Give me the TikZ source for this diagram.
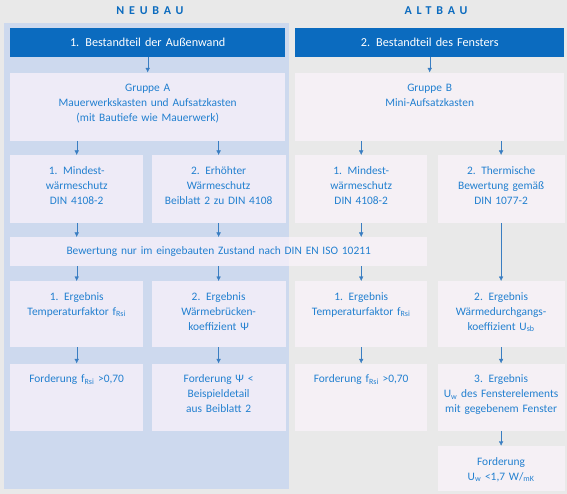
\documentclass[tikz,border=0pt]{standalone}
\usepackage{fontspec}
\setmainfont{Carlito}
\usepackage{tikz}
\usetikzlibrary{arrows.meta, positioning}

\definecolor{bggray}{HTML}{E9E9E9}
\definecolor{panelblue}{HTML}{CDD9EE}
\definecolor{headblue}{HTML}{0B6BBF}
\definecolor{textblue}{HTML}{2280D0}
\definecolor{arrowblue}{HTML}{3A7EC2}
\definecolor{boxfill}{HTML}{FBF3FB}

\begin{document}
\begin{tikzpicture}[
    x=1pt, y=-1pt,
    % column titles
    title/.style={text=headblue, inner sep=0pt,
                  font=\fontsize{12}{13}\selectfont\bfseries\addfontfeatures{LetterSpace=40}},
    % dark blue header bars
    headbox/.style={rectangle, fill=headblue, text=white, inner sep=0pt,
                    text width=#1, minimum height=29pt, align=center,
                    font=\fontsize{12.2}{14}\selectfont},
    % light boxes, text set from the top
    tbox/.style 2 args={rectangle, fill=boxfill, fill opacity=0.72, text opacity=1,
                        text=textblue, inner xsep=0pt, inner ysep=0pt,
                        text width=#1, text height=19pt, text depth=#2, align=center,
                        font=\fontsize{11.4}{15}\selectfont},
    % light box, text centred
    wbox/.style={rectangle, fill=boxfill, fill opacity=0.72, text opacity=1,
                 text=textblue, inner sep=0pt, text width=#1,
                 minimum height=29pt, align=center,
                 font=\fontsize{11.4}{15}\selectfont},
    arrow/.style={-{Latex[length=4.5pt, width=4.5pt]}, thin, arrowblue}
]

\fill[bggray] (0,0) rectangle (567,494);
\useasboundingbox (0,0) rectangle (567,494);
\fill[panelblue] (4,23) rectangle (289,489);

%-------- TITLES --------
\node[title] (tN) at (150,11) {NEUBAU};
\node[title] (tA) at (436,11) {ALTBAU};

%-------- NEUBAU --------
\node[headbox=275pt, anchor=north west] (hN) at (10,28) {1. Bestandteil der Außenwand};
\node[tbox={275pt}{49pt}, below=15pt of hN] (gA)
    {Gruppe A\\Mauerwerkskasten und Aufsatzkasten\\(mit Bautiefe wie Mauerwerk)};
\node[tbox={133pt}{49pt}, anchor=north west] (nMin) at (10,155)
    {1. Mindest-\\wärmeschutz\\DIN 4108-2};
\node[tbox={134pt}{49pt}, right=8pt of nMin] (nErh)
    {2. Erhöhter\\Wärmeschutz\\Beiblatt 2 zu DIN 4108};

\node[wbox=417pt, anchor=north west] (bew) at (10,237)
    {Bewertung nur im eingebauten Zustand nach DIN EN ISO 10211};

\node[tbox={133pt}{47pt}, anchor=north west] (nErg1) at (10,281)
    {1. Ergebnis\\Temperaturfaktor f\textsubscript{Rsi}};
\node[tbox={134pt}{47pt}, right=8pt of nErg1] (nErg2)
    {2. Ergebnis\\Wärmebrücken-\\koeffizient Ψ};
\node[tbox={133pt}{48pt}, below=16pt of nErg1] (nFor1)
    {Forderung f\textsubscript{Rsi} >0,70};
\node[tbox={134pt}{48pt}, below=16pt of nErg2] (nFor2)
    {Forderung Ψ <\\Beispieldetail\\aus Beiblatt 2};

%-------- ALTBAU --------
\node[headbox=269pt, anchor=north west] (hA) at (295,28) {2. Bestandteil des Fensters};
\node[tbox={269pt}{49pt}, below=15pt of hA] (gB)
    {Gruppe B\\Mini-Aufsatzkasten};
\node[tbox={132pt}{49pt}, anchor=north west] (aMin) at (295,155)
    {1. Mindest-\\wärmeschutz\\DIN 4108-2};
\node[tbox={127pt}{49pt}, right=10pt of aMin] (aTherm)
    {2. Thermische\\Bewertung gemäß\\DIN 1077-2};

\node[tbox={132pt}{47pt}, anchor=north west] (aErg1) at (295,281)
    {1. Ergebnis\\Temperaturfaktor f\textsubscript{Rsi}};
\node[tbox={127pt}{47pt}, right=10pt of aErg1] (aErg2)
    {2. Ergebnis\\Wärmedurchgangs-\\koeffizient U\textsubscript{sb}};
\node[tbox={132pt}{48pt}, below=16pt of aErg1] (aFor1)
    {Forderung f\textsubscript{Rsi} >0,70};
\node[tbox={127pt}{48pt}, below=16pt of aErg2] (aErg3)
    {3. Ergebnis\\U\textsubscript{w} des Fensterelements\\mit gegebenem Fenster};
\node[tbox={127pt}{26pt}, below=15pt of aErg3] (aFor2)
    {Forderung\\U\textsubscript{w} <1,7 W/\textsubscript{mK}};

%-------- ARROWS: Neubau --------
\draw[arrow] (hN)                 -- (gA);
\draw[arrow] (gA.south -| nMin)   -- (nMin);
\draw[arrow] (gA.south -| nErh)   -- (nErh);
\draw[arrow] (nMin)               -- (nMin |- bew.north);
\draw[arrow] (nErh)               -- (nErh |- bew.north);
\draw[arrow] (bew.south -| nErg1) -- (nErg1);
\draw[arrow] (bew.south -| nErg2) -- (nErg2);
\draw[arrow] (nErg1)              -- (nFor1);
\draw[arrow] (nErg2)              -- (nFor2);

%-------- ARROWS: Altbau --------
\draw[arrow] (hA)                 -- (gB);
\draw[arrow] (gB.south -| aMin)   -- (aMin);
\draw[arrow] (gB.south -| aTherm) -- (aTherm);
\draw[arrow] (aMin)               -- (aMin |- bew.north);
\draw[arrow] (bew.south -| aErg1) -- (aErg1);
\draw[arrow] (aTherm)             -- (aErg2);
\draw[arrow] (aErg1)              -- (aFor1);
\draw[arrow] (aErg2)              -- (aErg3);
\draw[arrow] (aErg3)              -- (aFor2);

\end{tikzpicture}
\end{document}
